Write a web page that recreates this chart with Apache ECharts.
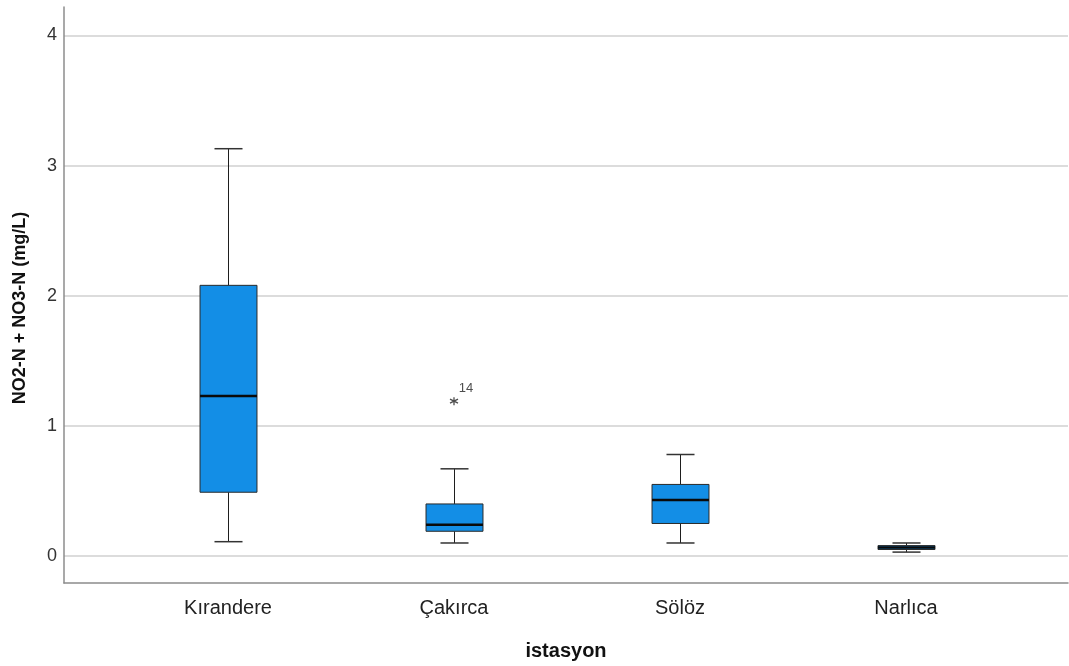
<!DOCTYPE html>
<html>
<head>
<meta charset="utf-8">
<script src="https://cdn.jsdelivr.net/npm/echarts@6/dist/echarts.min.js"></script>
<style>
html,body{margin:0;padding:0;background:#fff;}
#chart{width:1069px;height:666px;}
</style>
</head>
<body>
<div id="chart"></div>
<script>
const categories = ['Kırandere', 'Çakırca', 'Sölöz', 'Narlıca'];
const minV = [0.11, 0.10, 0.10, 0.03];
const q1V  = [0.49, 0.19, 0.25, 0.05];
const medV = [1.23, 0.24, 0.43, 0.065];
const q3V  = [2.08, 0.40, 0.55, 0.08];
const maxV = [3.13, 0.67, 0.78, 0.10];
const outliers = [[1, 1.19, '14']];
const yTicks = [0, 1, 2, 3, 4];
const yName = 'NO2-N + NO3-N (mg/L)';
const xName = 'istasyon';

const FONT = '"Liberation Sans", Arial, sans-serif';
const boxData = categories.map((c, i) => [i, minV[i], q1V[i], medV[i], q3V[i], maxV[i]]);

const chart = echarts.init(document.getElementById('chart'));
chart.setOption({
  animation: false,
  backgroundColor: '#fff',
  grid: [
    {left: 115, right: 50, top: 35.5, bottom: 110},
    {left: 64, right: 1, top: 35.5, bottom: 110},
    {left: 64, right: 1, top: 7, bottom: 81.5}
  ],
  xAxis: [
    {
      gridIndex: 0, type: 'category', data: categories, boundaryGap: true,
      axisLine: {show: false}, axisTick: {show: false}, splitLine: {show: false},
      axisLabel: {margin: 42, fontSize: 20, color: '#222', fontFamily: FONT}
    },
    {gridIndex: 1, type: 'value', show: false},
    {
      gridIndex: 2, type: 'value', min: 0, max: 1,
      axisLine: {show: true, lineStyle: {color: '#8c8c8c', width: 1.5}},
      axisTick: {show: false}, axisLabel: {show: false}, splitLine: {show: false},
      name: xName, nameLocation: 'middle', nameGap: 58,
      nameTextStyle: {fontSize: 20, fontWeight: 'bold', color: '#111', fontFamily: FONT}
    }
  ],
  yAxis: [
    {gridIndex: 0, type: 'value', min: yTicks[0], max: yTicks[yTicks.length - 1], show: false},
    {
      gridIndex: 1, type: 'value', min: yTicks[0], max: yTicks[yTicks.length - 1], interval: 1,
      axisLine: {show: false}, axisTick: {show: false},
      axisLabel: {margin: 7, fontSize: 18, color: '#333', fontFamily: FONT, padding: [4, 0, 0, 0]},
      splitLine: {show: true, lineStyle: {color: '#d0d0d0', width: 1.5}}
    },
    {
      gridIndex: 2, type: 'value', min: 0, max: 1,
      axisLine: {show: true, lineStyle: {color: '#8c8c8c', width: 1.5}},
      axisTick: {show: false}, axisLabel: {show: false}, splitLine: {show: false},
      name: yName, nameLocation: 'middle', nameGap: 35, nameRotate: 90,
      nameTextStyle: {fontSize: 18, fontWeight: 'bold', color: '#111', fontFamily: FONT, padding: [0, 26, 0, 0]}
    }
  ],
  series: [
    {
      type: 'custom',
      xAxisIndex: 0, yAxisIndex: 0,
      data: boxData,
      encode: {x: 0, y: [1, 2, 3, 4, 5]},
      z: 5,
      renderItem: function (params, api) {
        const idx = api.value(0);
        const pMin = api.coord([idx, api.value(1)]);
        const pQ1 = api.coord([idx, api.value(2)]);
        const pMed = api.coord([idx, api.value(3)]);
        const pQ3 = api.coord([idx, api.value(4)]);
        const pMax = api.coord([idx, api.value(5)]);
        const band = api.size([1, 0])[0];
        const bw = band * 0.252;
        const cw = band * 0.124;
        const cx = Math.round(pMed[0]) + 0.5;
        const line = {stroke: '#1e1e1e', lineWidth: 1};
        return {
          type: 'group',
          children: [
            {type: 'line', shape: {x1: cx, y1: pMax[1], x2: cx, y2: pQ3[1]}, style: line},
            {type: 'line', shape: {x1: cx, y1: pQ1[1], x2: cx, y2: pMin[1]}, style: line},
            {type: 'line', shape: {x1: cx - cw / 2, y1: pMax[1], x2: cx + cw / 2, y2: pMax[1]}, style: {stroke: '#333', lineWidth: 1.5}},
            {type: 'line', shape: {x1: cx - cw / 2, y1: pMin[1], x2: cx + cw / 2, y2: pMin[1]}, style: {stroke: '#333', lineWidth: 1.5}},
            {type: 'rect', shape: {x: cx - bw / 2, y: pQ3[1], width: bw, height: pQ1[1] - pQ3[1]},
              style: {fill: '#138ee6', stroke: '#2a2a2a', lineWidth: 1}},
            {type: 'line', shape: {x1: cx - bw / 2, y1: pMed[1], x2: cx + bw / 2, y2: pMed[1]}, style: {stroke: '#0a0a0a', lineWidth: 2.5}}
          ]
        };
      }
    },
    {
      type: 'scatter',
      xAxisIndex: 0, yAxisIndex: 0,
      z: 6,
      data: outliers.map(o => ({value: [o[0], o[1]], name: o[2]})),
      symbol: 'path://M5,0 L5,10 M0.67,2.5 L9.33,7.5 M0.67,7.5 L9.33,2.5',
      symbolSize: 8,
      itemStyle: {color: 'none', borderColor: '#222', borderWidth: 1.3},
      label: {
        show: true, formatter: p => p.name, position: 'top', offset: [12, 5],
        fontSize: 13, color: '#222', fontFamily: FONT
      }
    }
  ]
});
</script>
</body>
</html>
